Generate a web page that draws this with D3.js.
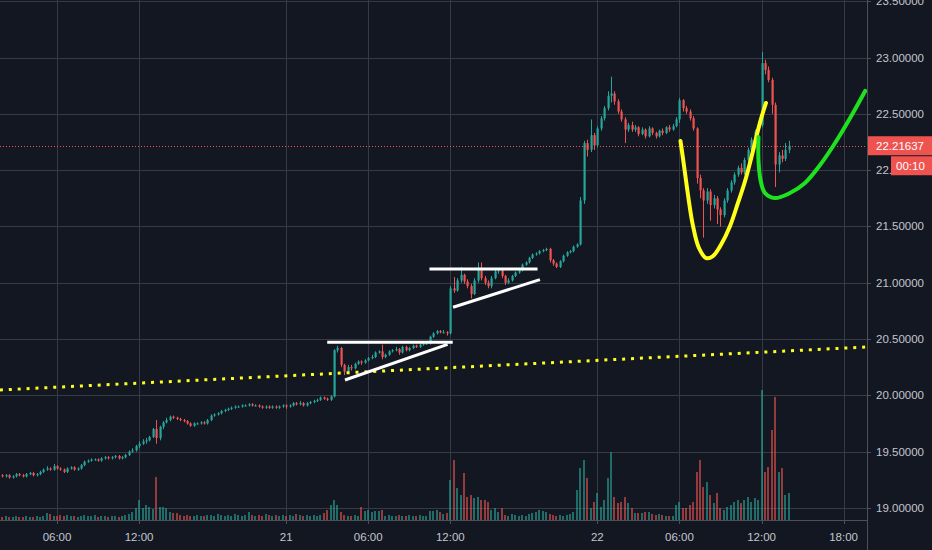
<!DOCTYPE html>
<html><head><meta charset="utf-8">
<script src="https://cdn.jsdelivr.net/npm/d3@7"></script>
<style>html,body{margin:0;padding:0;background:#131722;overflow:hidden}svg{display:block}</style>
</head><body>
<svg id="chart" width="932" height="550"></svg>
<script>
// ---- DATA (15-minute candles) ----
const open = [19.29,19.28,19.29,19.27,19.28,19.30,19.29,19.28,19.30,19.31,19.29,
19.30,19.32,19.34,19.35,19.34,19.37,19.35,19.34,19.32,19.35,19.36,19.34,19.35,19.38,
19.41,19.42,19.43,19.43,19.42,19.44,19.45,19.44,19.45,19.46,19.44,19.45,19.47,19.50,19.51,19.55,
19.57,19.59,19.60,19.63,19.70,19.62,19.72,19.76,19.78,19.81,19.80,19.79,19.78,19.77,19.75,19.73,
19.75,19.75,19.76,19.75,19.78,19.82,19.83,19.84,19.86,19.87,19.88,19.89,19.90,19.90,19.91,19.91,19.92,
19.91,19.91,19.90,19.89,19.90,19.89,19.90,19.89,19.90,19.91,19.90,19.91,19.93,19.92,19.93,
19.91,19.93,19.94,19.95,19.96,19.98,19.97,19.96,19.99,20.40,20.42,20.27,20.21,20.25,
20.24,20.28,20.30,20.29,20.31,20.33,20.34,20.38,
20.39,20.34,20.36,20.39,20.40,20.41,20.38,20.43,20.40,20.42,20.44,20.43,20.45,20.46,
20.46,20.52,20.55,20.57,20.56,20.56,20.55,20.95,20.93,21.02,21.07,21.01,20.97,
20.90,21.02,21.11,21.04,21.00,20.97,21.04,21.10,21.11,21.06,
21.00,21.02,21.06,21.09,21.11,21.16,21.18,21.22,21.25,21.26,21.28,21.29,
21.30,21.20,21.17,21.14,21.19,21.24,21.27,21.28,21.32,
21.34,21.73,22.24,22.18,22.31,22.22,22.37,22.46,22.55,22.66,
22.68,22.61,22.52,22.45,22.36,22.40,22.36,22.38,22.32,22.36,
22.30,22.37,22.33,22.30,22.35,22.33,22.38,22.36,22.39,22.45,
22.62,22.55,22.52,22.46,22.37,21.93,21.82,21.73,21.81,21.69,21.75,21.65,
21.60,21.73,21.82,21.89,21.96,22.02,21.98,22.09,22.18,22.27,22.34,
22.40,22.95,22.89,22.80,22.58,22.05,22.13,22.10,22.18];
const high = [19.30,19.30,19.30,19.29,19.31,19.31,19.30,19.31,19.32,19.32,19.31,
19.33,19.35,19.37,19.36,19.39,19.38,19.36,19.35,19.36,19.37,19.37,19.36,19.39,19.42,
19.43,19.44,19.44,19.44,19.45,19.46,19.46,19.46,19.47,19.47,19.46,19.48,19.51,19.53,19.56,19.59,
19.61,19.62,19.64,19.71,19.78,19.73,19.77,19.80,19.82,19.82,19.81,19.80,19.79,19.78,19.76,19.76,
19.76,19.77,19.77,19.79,19.83,19.84,19.85,19.87,19.88,19.89,19.90,19.91,19.91,19.92,19.92,19.93,19.93,
19.92,19.92,19.91,19.91,19.91,19.91,19.91,19.91,19.92,19.92,19.92,19.94,19.94,19.95,19.94,
19.94,19.95,19.96,19.97,19.99,19.99,19.98,20.00,20.41,20.44,20.43,20.28,20.27,20.27,
20.29,20.31,20.31,20.32,20.34,20.36,20.39,20.40,
20.45,20.37,20.40,20.41,20.43,20.42,20.44,20.44,20.43,20.45,20.45,20.46,20.47,20.47,
20.53,20.56,20.58,20.58,20.58,20.57,20.97,21.05,21.04,21.14,21.08,21.03,20.99,
21.04,21.18,21.18,21.06,21.02,21.06,21.12,21.13,21.13,21.07,
21.04,21.07,21.10,21.12,21.17,21.19,21.23,21.26,21.27,21.29,21.30,21.31,
21.31,21.21,21.18,21.20,21.25,21.28,21.29,21.33,21.35,
21.76,22.26,22.27,22.45,22.33,22.39,22.48,22.57,22.70,22.83,
22.70,22.63,22.54,22.47,22.42,22.43,22.40,22.39,22.38,22.37,
22.39,22.38,22.34,22.36,22.37,22.39,22.40,22.41,22.47,22.64,
22.63,22.57,22.54,22.48,22.38,21.96,21.84,21.84,21.83,21.78,21.77,21.67,
21.75,21.84,21.91,21.98,22.04,22.06,22.11,22.20,22.29,22.36,22.43,
23.05,22.98,22.92,22.82,22.60,22.16,22.18,22.24,22.26];
const low = [19.27,19.27,19.26,19.26,19.27,19.28,19.27,19.27,19.29,19.28,19.28,
19.29,19.31,19.33,19.33,19.33,19.34,19.33,19.31,19.31,19.34,19.33,19.33,19.34,19.37,
19.40,19.41,19.42,19.41,19.41,19.43,19.43,19.43,19.44,19.43,19.43,19.44,19.46,19.49,19.50,19.53,
19.56,19.57,19.59,19.62,19.57,19.60,19.70,19.75,19.77,19.79,19.78,19.77,19.76,19.74,19.72,19.72,
19.74,19.74,19.74,19.74,19.77,19.81,19.82,19.83,19.85,19.86,19.87,19.88,19.89,19.89,19.90,19.90,19.90,
19.90,19.89,19.88,19.88,19.88,19.88,19.88,19.88,19.89,19.88,19.89,19.90,19.91,19.91,19.90,
19.90,19.92,19.93,19.94,19.95,19.96,19.95,19.95,19.98,20.38,20.25,20.18,20.20,20.22,
20.23,20.27,20.27,20.28,20.30,20.32,20.33,20.37,
20.32,20.33,20.35,20.38,20.39,20.36,20.37,20.39,20.39,20.41,20.42,20.42,20.44,20.45,
20.45,20.51,20.54,20.55,20.55,20.53,20.54,20.91,20.92,21.00,20.99,20.95,20.86,
20.89,21.00,21.02,20.98,20.95,20.95,21.03,21.08,21.04,20.98,
20.99,21.01,21.05,21.08,21.10,21.15,21.17,21.21,21.24,21.25,21.27,21.28,
21.18,21.15,21.13,21.13,21.18,21.23,21.26,21.27,21.31,
21.33,21.70,22.12,22.16,22.18,22.20,22.35,22.44,22.53,22.60,
22.58,22.50,22.43,22.24,22.34,22.34,22.34,22.30,22.31,22.28,
22.29,22.31,22.28,22.29,22.31,22.32,22.34,22.35,22.38,22.42,
22.52,22.50,22.44,22.35,21.88,21.75,21.40,21.70,21.55,21.66,21.52,21.50,
21.58,21.71,21.80,21.87,21.94,21.96,21.96,22.07,22.16,22.25,22.32,
22.38,22.85,22.78,22.50,21.85,21.98,22.07,22.08,22.15];
const close = [19.28,19.29,19.27,19.28,19.30,19.29,19.28,19.30,19.31,19.29,19.30,
19.32,19.34,19.35,19.34,19.37,19.35,19.34,19.32,19.35,19.36,19.34,19.35,19.38,19.41,
19.42,19.43,19.43,19.42,19.44,19.45,19.44,19.45,19.46,19.44,19.45,19.47,19.50,19.51,19.55,19.57,
19.59,19.60,19.63,19.70,19.62,19.72,19.76,19.78,19.81,19.80,19.79,19.78,19.77,19.75,19.73,19.75,
19.75,19.76,19.75,19.78,19.82,19.83,19.84,19.86,19.87,19.88,19.89,19.90,19.90,19.91,19.91,19.92,19.91,
19.91,19.90,19.89,19.90,19.89,19.90,19.89,19.90,19.91,19.90,19.91,19.93,19.92,19.93,19.91,
19.93,19.94,19.95,19.96,19.98,19.97,19.96,19.99,20.40,20.42,20.27,20.21,20.25,20.24,
20.28,20.30,20.29,20.31,20.33,20.34,20.38,20.39,
20.34,20.36,20.39,20.40,20.41,20.38,20.43,20.40,20.42,20.44,20.43,20.45,20.46,20.46,
20.52,20.55,20.57,20.56,20.56,20.55,20.95,20.93,21.02,21.07,21.01,20.97,20.90,
21.02,21.11,21.04,21.00,20.97,21.04,21.10,21.11,21.06,21.00,
21.02,21.06,21.09,21.11,21.16,21.18,21.22,21.25,21.26,21.28,21.29,21.30,
21.20,21.17,21.14,21.19,21.24,21.27,21.28,21.32,21.34,
21.73,22.24,22.18,22.31,22.22,22.37,22.46,22.55,22.66,22.68,
22.61,22.52,22.45,22.36,22.40,22.36,22.38,22.32,22.36,22.30,
22.37,22.33,22.30,22.35,22.33,22.38,22.36,22.39,22.45,22.62,
22.55,22.52,22.46,22.37,21.93,21.82,21.73,21.81,21.69,21.75,21.65,21.60,
21.73,21.82,21.89,21.96,22.02,21.98,22.09,22.18,22.27,22.34,22.40,
22.95,22.89,22.80,22.58,22.05,22.13,22.10,22.18,22.21637];
const volume = [3,4,3,3,4,3,3,4,3,3,4,3,4,
7,6,4, 4,5,4,5,4,
4,3,4,5,4,4,5,3,4,4,3,4,4,3,4,
5,6,8, 12,20,12,15,13,11, 43,13,13,12, 8,7,7,5,
4,5,4,4,5,4,4,5,
5,4,6,5,4,5,4,6,5,4,5,8,5,4,5,4,6,5,4,5,4,5,
4,5,4,6,5,4,5,4,5,4,
5,7,10,15, 20,15,8, 5,4,4,5,4, 13, 9,10,8,9,9, 10,
4,5,4,4,5,4,4,5,4,4,5,4,4,
9,9,10,8,6,7,
40,60,32,25,47,23,25,22,23,20,20,18,
10,12,8,12,
5,4,6,5,4,5,4,6,7,8,10,9,8,6,5,4,5,4,5,
6,8,
30,52,60,42,12,18,27,13,20,
42,68,23,17,18,23,17,12,
7,7,7,8,8,6,5,6,5,4,4,4,
15,18,12,12,15,18,
48,60,33,38,25,17,27,
12,10,13,15,18,20,17,20,23,18,22,20,
130,48,53,90,123,48,52,25,27];

const timeTickIndex = [16, 40, 83, 107, 131, 174, 198, 222, 246];
const timeTickLabels = ["06:00","12:00","21","06:00","12:00","22","06:00","12:00","18:00"];
const priceTicks = [19.0, 19.5, 20.0, 20.5, 21.0, 21.5, 22.0, 22.5, 23.0, 23.5];
const lastPrice = 22.21637;
const countdownLabel = "00:10";

// drawings, as [bar index, price]
const yellowTrend = [[-0.7, 20.047], [252.8, 20.429]];
const whiteLines = [
  [[95.0, 20.471], [131.7, 20.471]],
  [[100.2, 20.136], [130.2, 20.453]],
  [[124.9, 21.122], [156.5, 21.122]],
  [[131.8, 20.782], [157.2, 21.027]]
];
const yellowCurve = [[198.3,22.259],[199.3,22.045],[200.5,21.779],[201.9,21.513],[203.7,21.308],
  [205.8,21.219],[207.8,21.237],[210.1,21.335],[212.8,21.504],[215.1,21.708],[217.1,21.894],
  [219.2,22.134],[220.9,22.347],[222.1,22.481],[223.3,22.596]];
const greenCurve = [[221.1,22.294],[221.1,22.090],[221.7,21.912],[223.0,21.797],[225.9,21.752],
  [230.3,21.797],[234.7,21.886],[239.1,22.045],[243.5,22.241],[247.9,22.463],[252.3,22.703]];

// ---- CHART ----
const W = 932, H = 550, plotR = 867, plotB = 520;
const svg = d3.select("#chart");
const UP = "#26a69a", DOWN = "#ef5350";
const x = d3.scaleLinear().domain([0, 253]).range([2.3, 867.56]);
const y = d3.scaleLinear().domain([19, 23]).range([507.9, 57.5]);
const yv = d3.scaleLinear().domain([0, 140]).range([plotB, plotB - 140]);
const font = "'Liberation Sans', Arial, sans-serif";

svg.append("rect").attr("width", W).attr("height", H).attr("fill", "#131722");
svg.append("defs").append("clipPath").attr("id", "plot")
  .append("rect").attr("x", 0).attr("y", 0).attr("width", plotR).attr("height", plotB);

const grid = svg.append("g").attr("clip-path", "url(#plot)");
grid.selectAll(".hg").data(priceTicks).join("line")
  .attr("x1", 0).attr("x2", plotR)
  .attr("y1", d => Math.round(y(d)) + 0.5).attr("y2", d => Math.round(y(d)) + 0.5)
  .attr("stroke", "#363a45").attr("stroke-width", 1);
grid.selectAll(".vg").data(timeTickIndex).join("line")
  .attr("y1", 0).attr("y2", plotB)
  .attr("x1", d => Math.round(x(d)) + 0.5).attr("x2", d => Math.round(x(d)) + 0.5)
  .attr("stroke", "#363a45").attr("stroke-width", 1);

const bars = close.map((c, i) => ({i, o: open[i], h: high[i], l: low[i], c, v: volume[i]}));
const plot = svg.append("g").attr("clip-path", "url(#plot)");

// volume
plot.append("g").selectAll("rect").data(bars).join("rect")
  .attr("x", d => Math.round(x(d.i)) - 1)
  .attr("width", 2)
  .attr("y", d => yv(d.v))
  .attr("height", d => plotB - yv(d.v))
  .attr("fill", d => d.c >= d.o ? UP : DOWN)
  .attr("fill-opacity", 0.6);

// candles
const cg = plot.append("g").selectAll("g").data(bars).join("g");
cg.append("line")
  .attr("x1", d => Math.round(x(d.i)) + 0.5).attr("x2", d => Math.round(x(d.i)) + 0.5)
  .attr("y1", d => y(d.h)).attr("y2", d => y(d.l))
  .attr("stroke", d => d.c >= d.o ? UP : DOWN).attr("stroke-width", 1);
cg.append("rect")
  .attr("x", d => Math.round(x(d.i)) - 0.5)
  .attr("width", 2.2)
  .attr("y", d => y(Math.max(d.o, d.c)))
  .attr("height", d => Math.max(1, Math.abs(y(d.o) - y(d.c))))
  .attr("fill", d => d.c >= d.o ? UP : DOWN);

// last price line
plot.append("line")
  .attr("x1", 0).attr("x2", plotR)
  .attr("y1", Math.round(y(lastPrice)) + 0.5).attr("y2", Math.round(y(lastPrice)) + 0.5)
  .attr("stroke", "#ef5350").attr("stroke-dasharray", "1,2").attr("stroke-width", 1);

// drawings
const ann = svg.append("g").attr("clip-path", "url(#plot)");
const ln = d3.line().x(d => x(d[0])).y(d => y(d[1]));
ann.append("path").attr("d", ln(yellowTrend)).attr("fill", "none")
  .attr("stroke", "#ffff1e").attr("stroke-width", 3).attr("stroke-dasharray", "3,5.9");
ann.selectAll(".wl").data(whiteLines).join("path")
  .attr("d", ln).attr("fill", "none").attr("stroke", "#ffffff").attr("stroke-width", 3);
const cl = d3.line().x(d => x(d[0])).y(d => y(d[1])).curve(d3.curveCatmullRom.alpha(0.5));
ann.append("path").attr("d", cl(yellowCurve)).attr("fill", "none")
  .attr("stroke", "#ffff1a").attr("stroke-width", 4).attr("stroke-linecap", "round");
ann.append("path").attr("d", cl(greenCurve)).attr("fill", "none")
  .attr("stroke", "#1fe21f").attr("stroke-width", 4).attr("stroke-linecap", "round");

// axes borders
svg.append("line").attr("x1", plotR + 0.5).attr("x2", plotR + 0.5).attr("y1", 0).attr("y2", H)
  .attr("stroke", "#4c505b");
svg.append("line").attr("x1", 0).attr("x2", plotR).attr("y1", plotB + 0.5).attr("y2", plotB + 0.5)
  .attr("stroke", "#4c505b");

// price axis
const pa = svg.append("g");
pa.selectAll("line").data(priceTicks).join("line")
  .attr("x1", plotR).attr("x2", plotR + 4)
  .attr("y1", d => Math.round(y(d)) + 0.5).attr("y2", d => Math.round(y(d)) + 0.5)
  .attr("stroke", "#4c505b");
pa.selectAll("text").data(priceTicks).join("text")
  .attr("x", 876).attr("y", d => y(d)).attr("dy", "0.35em")
  .attr("font-family", font).attr("font-size", "11.5px").attr("fill", "#c3c6cd")
  .text(d => d3.format(".5f")(d));

// time axis
const ta = svg.append("g");
ta.selectAll("line").data(timeTickIndex).join("line")
  .attr("x1", d => Math.round(x(d)) + 0.5).attr("x2", d => Math.round(x(d)) + 0.5)
  .attr("y1", plotB).attr("y2", plotB + 4).attr("stroke", "#4c505b");
ta.selectAll("text").data(timeTickIndex).join("text")
  .attr("x", d => x(d)).attr("y", 537).attr("dy", "0.35em").attr("text-anchor", "middle")
  .attr("font-family", font).attr("font-size", "11.5px").attr("fill", "#c3c6cd")
  .text((d, k) => timeTickLabels[k]);

// last price label + countdown
const ly = y(lastPrice);
svg.append("rect").attr("x", plotR + 1).attr("y", ly - 9.5).attr("width", W - plotR - 1).attr("height", 19)
  .attr("fill", "#ef5350");
svg.append("text").attr("x", 876).attr("y", ly).attr("dy", "0.35em")
  .attr("font-family", font).attr("font-size", "11.5px").attr("fill", "#ffffff")
  .text(d3.format(".5f")(lastPrice));
svg.append("rect").attr("x", 891).attr("y", ly + 10.5).attr("width", W - 891).attr("height", 19)
  .attr("fill", "#ef5350");
svg.append("text").attr("x", 896).attr("y", ly + 20).attr("dy", "0.35em")
  .attr("font-family", font).attr("font-size", "11.5px").attr("fill", "#ffffff")
  .text(countdownLabel);
</script>
</body></html>
